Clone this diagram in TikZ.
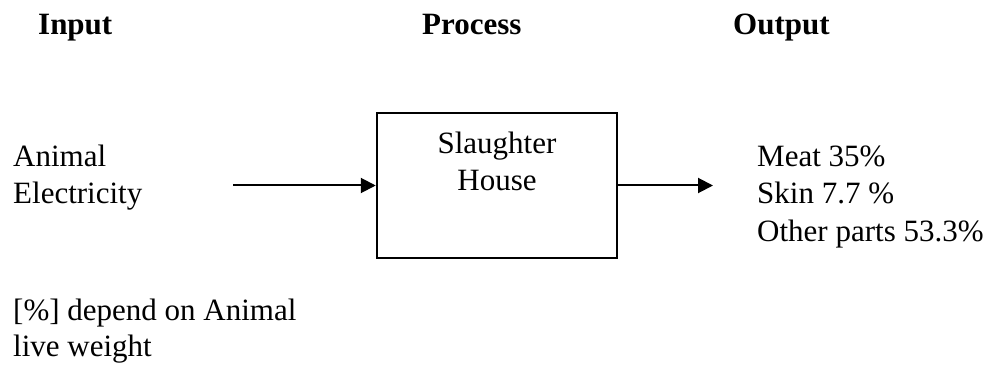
\documentclass[tikz,border=0pt]{standalone}
\usepackage{fontspec}
\setmainfont{Liberation Serif}
\usetikzlibrary{arrows.meta}
\begin{document}
\begin{tikzpicture}[x=1pt,y=-1pt,
  txt/.style={inner sep=0pt,anchor=base west,font=\fontsize{31}{37}\selectfont},
  ctxt/.style={inner sep=0pt,anchor=base,font=\fontsize{31}{37}\selectfont},
  head/.style={inner sep=0pt,anchor=base west,font=\fontsize{31}{37}\selectfont\bfseries},
  procbox/.style={draw,line width=2.5pt,minimum width=240pt,minimum height=145pt,inner sep=0pt},
  flow/.style={line width=2pt,-{Triangle[length=15pt,width=15pt]}}]
\useasboundingbox (0,0) rectangle (993,366);
% headers
\node[head] (hin) at (38,35) {Input};
\node[head] (hproc) at (422,35) {Process};
\node[head] (hout) at (733,35) {Output};
% inputs
\node[txt] (animal) at (13,167) {Animal};
\node[txt] (elec) at (13,204) {Electricity};
% process box
\node[procbox] (box) at (497,185.5) {};
\node[ctxt] (slaughter) at (497,154) {Slaughter};
\node[ctxt] (house) at (497,191) {House};
% outputs
\node[txt] (meat) at (757,167) {Meat 35\%};
\node[txt] (skin) at (757,204) {Skin 7.7 \%};
\node[txt] (other) at (757,241) {Other parts 53.3\%};
% note
\node[txt] (note1) at (13,320) {[\%] depend on Animal};
\node[txt] (note2) at (13,356) {live weight};
% arrows
\coordinate (inS) at (233,185.5);
\coordinate (outE) at (713,185.5);
\draw[flow] (inS) -- (box.west);
\draw[flow] (box.east) -- (outE);
\end{tikzpicture}
\end{document}
